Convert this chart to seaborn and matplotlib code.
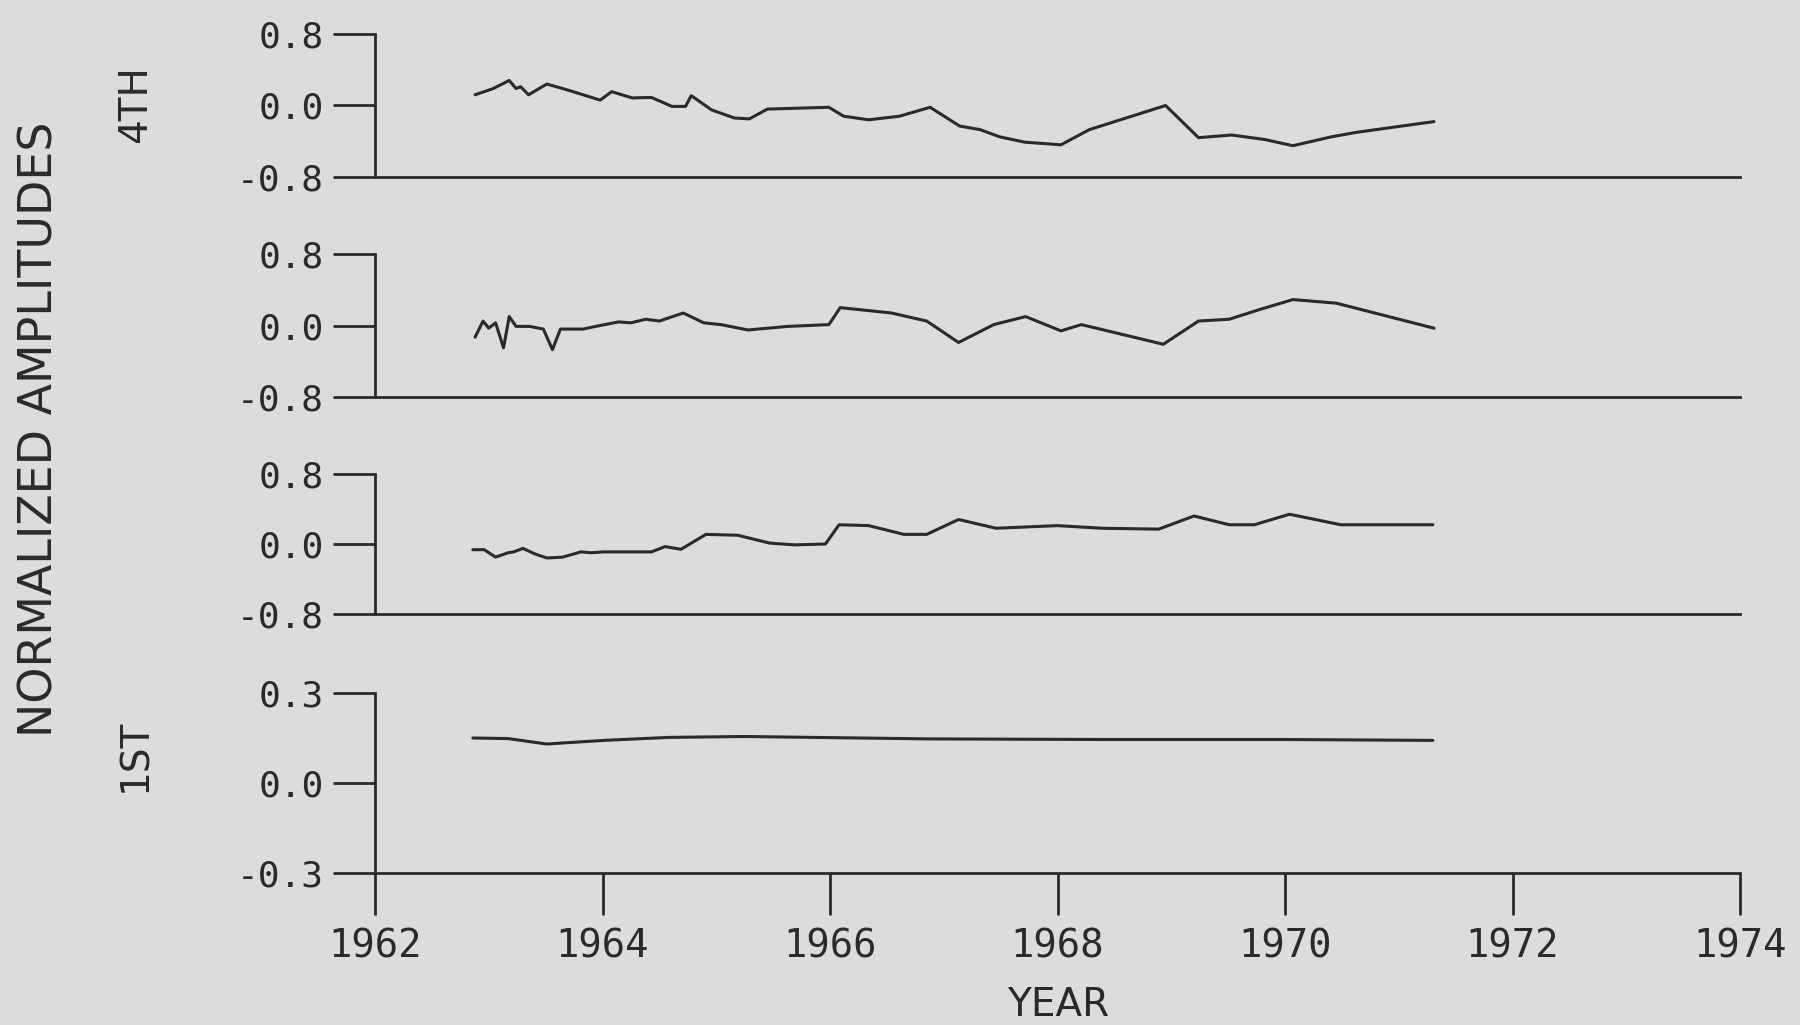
import matplotlib
matplotlib.use("Agg")
import matplotlib.pyplot as plt
import seaborn as sns

# Digitised amplitudes
years_4th = [1962.88, 1963.04, 1963.18, 1963.24, 1963.28, 1963.35, 1963.51, 1963.65,
             1963.83, 1963.98, 1964.08, 1964.26, 1964.43, 1964.61, 1964.73, 1964.78,
             1964.96, 1965.16, 1965.29, 1965.45, 1965.99, 1966.12, 1966.34, 1966.61,
             1966.88, 1967.14, 1967.32, 1967.49, 1967.71, 1968.03, 1968.28, 1968.95,
             1969.24, 1969.53, 1969.82, 1970.07, 1970.41, 1970.63, 1971.31]
amp_4th = [0.12, 0.19, 0.28, 0.19, 0.21, 0.12, 0.24, 0.19,
           0.12, 0.06, 0.155, 0.085, 0.09, -0.01, -0.01, 0.11,
           -0.05, -0.14, -0.15, -0.04, -0.02, -0.12, -0.16, -0.12,
           -0.02, -0.23, -0.27, -0.35, -0.41, -0.44, -0.27, 0.0,
           -0.36, -0.33, -0.38, -0.45, -0.35, -0.30, -0.18]

years_3rd = [1962.88, 1962.95, 1963.00, 1963.06, 1963.13, 1963.18, 1963.24, 1963.36,
             1963.48, 1963.56, 1963.63, 1963.83, 1963.94, 1964.14, 1964.25, 1964.38,
             1964.50, 1964.71, 1964.89, 1965.04, 1965.28, 1965.63, 1965.99, 1966.09,
             1966.54, 1966.85, 1967.13, 1967.44, 1967.72, 1968.03, 1968.21, 1968.93,
             1969.24, 1969.51, 1969.78, 1970.07, 1970.45, 1971.31]
amp_3rd = [-0.13, 0.05, -0.03, 0.03, -0.25, 0.10, -0.01, -0.01,
           -0.04, -0.27, -0.04, -0.04, -0.01, 0.04, 0.03, 0.07,
           0.05, 0.14, 0.03, 0.01, -0.05, -0.01, 0.01, 0.20,
           0.14, 0.05, -0.19, 0.01, 0.10, -0.06, 0.01, -0.21,
           0.05, 0.07, 0.18, 0.29, 0.25, -0.03]

years_2nd = [1962.86, 1962.96, 1963.06, 1963.17, 1963.22, 1963.30, 1963.40, 1963.51,
             1963.65, 1963.81, 1963.90, 1964.01, 1964.43, 1964.55, 1964.69, 1964.91,
             1965.19, 1965.47, 1965.69, 1965.96, 1966.08, 1966.34, 1966.65, 1966.85,
             1967.13, 1967.46, 1968.00, 1968.39, 1968.89, 1969.20, 1969.51, 1969.73,
             1970.04, 1970.49, 1971.30]
amp_2nd = [-0.065, -0.065, -0.15, -0.10, -0.09, -0.05, -0.11, -0.16,
           -0.15, -0.09, -0.10, -0.09, -0.09, -0.03, -0.06, 0.11,
           0.10, 0.01, -0.01, 0.00, 0.22, 0.21, 0.11, 0.11,
           0.28, 0.18, 0.21, 0.18, 0.17, 0.32, 0.22, 0.22,
           0.34, 0.22, 0.22]

years_1st = [1962.86, 1963.17, 1963.51, 1964.01, 1964.58, 1965.25, 1966.87,
             1968.39, 1970.00, 1971.30]
amp_1st = [0.150, 0.148, 0.130, 0.142, 0.152, 0.155, 0.147,
           0.145, 0.145, 0.142]

year_ticks = [1962, 1964, 1966, 1968, 1970, 1972, 1974]
big_ticks = [-0.8, 0.0, 0.8]
big_labels = ["-0.8", "0.0", "0.8"]
small_ticks = [-0.3, 0.0, 0.3]
small_labels = ["-0.3", "0.0", "0.3"]

sns.set_theme(style="white")
plt.rcParams["font.family"] = ["DejaVu Sans"]

BG = "#dcdcdc"
INK = "#2a2a2a"
W, H = 1800, 1025

fig = plt.figure(figsize=(18, 10.25), dpi=100, facecolor=BG)


def panel(top, bottom):
    # axes placed by pixel box of the reference
    return fig.add_axes([375 / W, 1 - bottom / H, (1740 - 375) / W, (bottom - top) / H])


panels = [
    (panel(34, 177), years_4th, amp_4th, big_ticks, big_labels, 0.8),
    (panel(254, 397), years_3rd, amp_3rd, big_ticks, big_labels, 0.8),
    (panel(474, 614), years_2nd, amp_2nd, big_ticks, big_labels, 0.8),
    (panel(693, 873), years_1st, amp_1st, small_ticks, small_labels, 0.3),
]

for i, (ax, xs, ys, yt, yl, lim) in enumerate(panels):
    ax.set_facecolor(BG)
    sns.lineplot(x=xs, y=ys, ax=ax, color=INK, linewidth=2.2)
    ax.set_xlim(1962, 1974)
    ax.set_ylim(-lim, lim)
    for side in ["top", "right"]:
        ax.spines[side].set_visible(False)
    for side in ["left", "bottom"]:
        ax.spines[side].set_color(INK)
        ax.spines[side].set_linewidth(2.0)
    ax.set_yticks(yt)
    ax.set_yticklabels(yl, family="DejaVu Sans Mono", fontsize=26, color=INK)
    ax.tick_params(axis="y", left=True, direction="out", length=30, width=2.0,
                   color=INK, pad=7)
    if i < 3:
        ax.set_xticks([])
    else:
        ax.set_xticks(year_ticks)
        ax.set_xticklabels([str(y) for y in year_ticks], family="DejaVu Sans Mono",
                           fontsize=28, color=INK)
        ax.tick_params(axis="x", bottom=True, direction="out", length=30, width=2.0,
                       color=INK, pad=9)
    ax.set_xlabel("")
    ax.set_ylabel("")

fig.text(40 / W, 1 - 429 / H, "NORMALIZED AMPLITUDES", rotation=90, ha="center",
         va="center", fontsize=33, color=INK)
fig.text(135 / W, 1 - 104 / H, "4TH", rotation=90, ha="center", va="center",
         fontsize=28, color=INK)
fig.text(135 / W, 1 - 755 / H, "1ST", rotation=90, ha="center", va="center",
         fontsize=28, color=INK)
fig.text(1058 / W, 1 - 1005 / H, "YEAR", ha="center", va="center",
         fontsize=28, color=INK)

fig.savefig("out.png", dpi=100, facecolor=fig.get_facecolor())
plt.close(fig)
